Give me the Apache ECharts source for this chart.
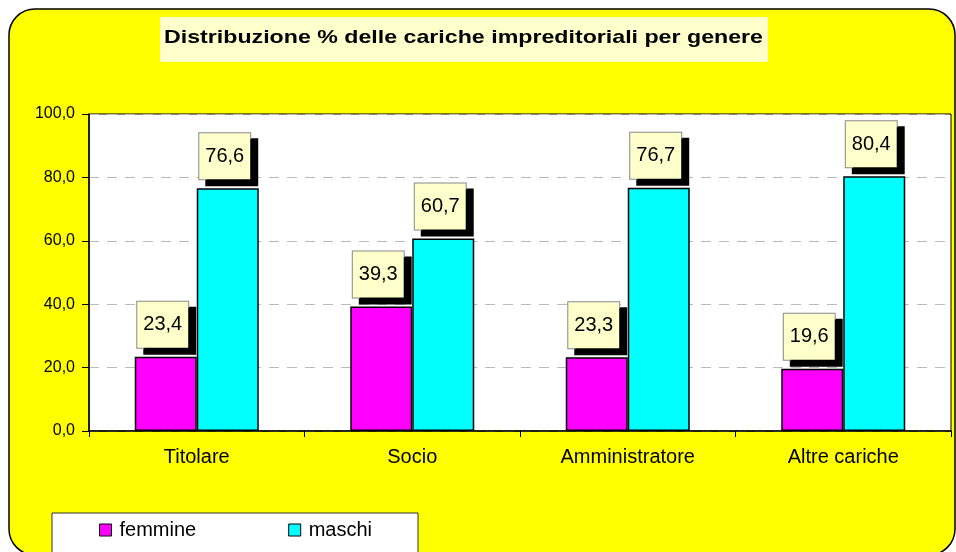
<!DOCTYPE html>
<html lang="it">
<head>
    <meta charset="UTF-8">
    <title>Distribuzione cariche</title>
    <script src="https://cdn.jsdelivr.net/npm/echarts@6/dist/echarts.min.js"></script>
    <style>
        html, body { margin: 0; padding: 0; background: #fff; }
        #chart { width: 956px; height: 552px; }
    </style>
</head>
<body>
<div id="chart"></div>
<script>
    // dati
    var titolo = 'Distribuzione % delle cariche impreditoriali per genere';
    var categorie = ['Titolare', 'Socio', 'Amministratore', 'Altre cariche'];
    var femmine = [23.4, 39.3, 23.3, 19.6];
    var maschi = [76.6, 60.7, 76.7, 80.4];
    var yTicks = [0, 20, 40, 60, 80, 100];

    var FONT = 'Liberation Sans, Arial, sans-serif';

    function virgola(v) {
        return Number(v).toFixed(1).replace('.', ',');
    }

    // etichette con box giallo chiaro e ombra nera
    var etichetta = {
        show: true,
        position: 'top',
        distance: 9,
        offset: [-3, 0],
        formatter: function (p) { return virgola(p.value); },
        fontFamily: FONT,
        fontSize: 20,
        color: '#000',
        lineHeight: 24,
        backgroundColor: '#ffffcc',
        borderColor: '#888',
        borderWidth: 1,
        padding: [11, 6, 11, 6],
        shadowColor: '#000',
        shadowBlur: 0,
        shadowOffsetX: 7,
        shadowOffsetY: 6
    };

    var chart = echarts.init(document.getElementById('chart'));
    var option = {
        animation: false,
        textStyle: { fontFamily: FONT },
        graphic: [
            {
                type: 'rect', z: -10,
                shape: { x: 9, y: 9, width: 946, height: 546, r: 26 },
                style: { fill: '#ffff00', stroke: '#000', lineWidth: 1.5 }
            },
            {
                type: 'rect', z: -5,
                shape: { x: 160, y: 17, width: 608, height: 45 },
                style: { fill: '#ffffcc' }
            },
            {
                // titolo (testo un po' spaziato come nell'originale)
                type: 'text', z: 10,
                x: 164, y: 38,
                scaleX: 1.22,
                style: {
                    text: titolo,
                    font: 'bold 19px ' + FONT,
                    fill: '#000',
                    textAlign: 'left',
                    textVerticalAlign: 'middle'
                }
            },
            {
                type: 'rect', z: -5,
                shape: { x: 52, y: 513, width: 366, height: 50 },
                style: { fill: '#fff', stroke: '#333', lineWidth: 1 }
            }
        ],
        legend: {
            left: 99,
            top: 520,
            padding: 0,
            itemWidth: 12,
            itemHeight: 12,
            itemGap: 92,
            icon: 'rect',
            itemStyle: { borderColor: '#000', borderWidth: 1 },
            textStyle: { fontFamily: FONT, fontSize: 20, color: '#000', padding: [0, 0, 0, 3] },
            data: ['femmine', 'maschi']
        },
        grid: {
            left: 89,
            right: 5,
            top: 114,
            bottom: 121,
            show: true,
            backgroundColor: '#fff',
            borderColor: '#000',
            borderWidth: 1
        },
        xAxis: {
            type: 'category',
            data: categorie,
            axisLine: { lineStyle: { color: '#000', width: 1.5 } },
            axisTick: { show: true, length: 6, lineStyle: { color: '#000' } },
            axisLabel: { fontFamily: FONT, fontSize: 20, color: '#000', margin: 16 }
        },
        yAxis: {
            type: 'value',
            min: yTicks[0],
            max: yTicks[yTicks.length - 1],
            interval: 20,
            axisLine: { show: true, lineStyle: { color: '#000', width: 1.5 } },
            axisTick: { show: true, length: 7, lineStyle: { color: '#000' } },
            axisLabel: {
                fontFamily: FONT, fontSize: 16, color: '#000', margin: 14,
                formatter: function (v) { return virgola(v); }
            },
            splitLine: { lineStyle: { color: '#bbb', type: [10, 8] } }
        },
        series: [
            {
                name: 'femmine',
                type: 'bar',
                data: femmine,
                barWidth: 62,
                barGap: '0%',
                itemStyle: { color: '#ff00ff', borderColor: '#000', borderWidth: 1.5 },
                label: etichetta
            },
            {
                name: 'maschi',
                type: 'bar',
                data: maschi,
                barWidth: 62,
                barGap: '0%',
                itemStyle: { color: '#00ffff', borderColor: '#000', borderWidth: 1.5 },
                label: etichetta
            }
        ]
    };
    chart.setOption(option);
</script>
</body>
</html>
